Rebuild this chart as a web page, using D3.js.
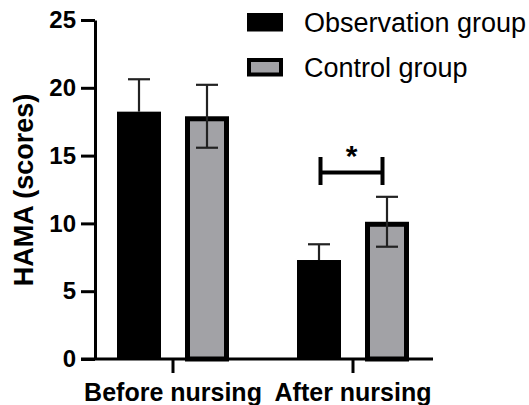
<!DOCTYPE html>
<html>
<head>
<meta charset="utf-8">
<script src="https://cdn.jsdelivr.net/npm/d3@7"></script>
<style>
  html, body { margin: 0; padding: 0; background: #fff; }
  svg { display: block; font-family: "Liberation Sans", Arial, sans-serif; }
</style>
</head>
<body>
<svg id="chart" width="529" height="405"></svg>
<script>
const categories = ["Before nursing", "After nursing"];
const seriesNames = ["Observation group", "Control group"];
const observationMeans = [18.24, 7.30];
const observationSD = [2.39, 1.16];
const controlMeans = [17.9, 10.12];
const controlSD = [2.32, 1.84];
const yTicks = [0, 5, 10, 15, 20, 25];
const yTitle = "HAMA (scores)";
const sigLabel = "*";

const colors = { "Observation group": "#000000", "Control group": "#a2a2a6" };

const data = [];
categories.forEach((c, i) => {
  data.push({ cat: c, series: seriesNames[0], mean: observationMeans[i], sd: observationSD[i] });
  data.push({ cat: c, series: seriesNames[1], mean: controlMeans[i], sd: controlSD[i] });
});

const svg = d3.select("#chart");

const y = d3.scaleLinear().domain([0, 25]).range([359, 20]);
const x0 = d3.scaleBand().domain(categories).range([83, 443]).padding(0);
const groupW = 112;
const x1 = d3.scaleBand().domain(seriesNames).range([0, groupW]).paddingInner(0.353).paddingOuter(0);
const barX = d => x0(d.cat) + (x0.bandwidth() - groupW) / 2 + x1(d.series);
const bw = x1.bandwidth();

// Bars
const borderW = 5;
svg.append("g").selectAll("rect").data(data).join("rect")
  .attr("x", d => d.series === "Control group" ? barX(d) + borderW / 2 : barX(d))
  .attr("y", d => d.series === "Control group" ? y(d.mean) + borderW / 2 : y(d.mean))
  .attr("width", d => d.series === "Control group" ? bw - borderW : bw)
  .attr("height", d => d.series === "Control group" ? y(0) - y(d.mean) - borderW / 2 : y(0) - y(d.mean))
  .attr("fill", d => colors[d.series])
  .attr("stroke", d => d.series === "Control group" ? "#000" : "none")
  .attr("stroke-width", borderW);

// Error bars
const capW = 22;
const eb = svg.append("g").attr("stroke", "#222").attr("stroke-width", 2.2);
data.forEach(d => {
  const cx = barX(d) + bw / 2;
  const isCtrl = d.series === "Control group";
  const yTop = y(d.mean + d.sd);
  const yBot = isCtrl ? y(d.mean - d.sd) : y(d.mean);
  eb.append("line").attr("x1", cx).attr("x2", cx).attr("y1", yTop).attr("y2", yBot);
  eb.append("line").attr("x1", cx - capW / 2).attr("x2", cx + capW / 2).attr("y1", yTop).attr("y2", yTop);
  if (isCtrl) {
    eb.append("line").attr("x1", cx - capW / 2).attr("x2", cx + capW / 2).attr("y1", yBot).attr("y2", yBot);
  }
});

// Y axis
const yAxis = d3.axisLeft(y).tickValues(yTicks).tickSize(14).tickPadding(5).tickSizeOuter(0);
const gy = svg.append("g").attr("transform", "translate(95,0)").call(yAxis);
gy.select(".domain").attr("stroke", "#000").attr("stroke-width", 3);
gy.selectAll(".tick line").attr("stroke", "#000").attr("stroke-width", 3);
gy.selectAll(".tick text").attr("fill", "#000").style("font-size", "24px").style("font-weight", "bold")
  .style("font-family", "'Liberation Sans', Arial, sans-serif");

// X axis
const xAxis = d3.axisBottom(x0).tickSize(14).tickPadding(10).tickSizeOuter(0);
const gx = svg.append("g").attr("transform", `translate(0,${y(0)})`).call(xAxis);
gx.select(".domain").remove();
gx.append("line").attr("x1", 81).attr("x2", 433).attr("y1", 0).attr("y2", 0)
  .attr("stroke", "#000").attr("stroke-width", 3);
gx.selectAll(".tick line").attr("stroke", "#000").attr("stroke-width", 3);
gx.selectAll(".tick text").attr("fill", "#000").style("font-size", "25px").style("font-weight", "bold")
  .style("font-family", "'Liberation Sans', Arial, sans-serif").attr("dy", "0.71em");

// Y title
svg.append("text")
  .attr("transform", "translate(33,190) rotate(-90)")
  .attr("text-anchor", "middle")
  .style("font-size", "27px").style("font-weight", "bold")
  .text(yTitle);

// Significance bracket
const obsAfter = data.find(d => d.cat === categories[1] && d.series === seriesNames[0]);
const ctrlAfter = data.find(d => d.cat === categories[1] && d.series === seriesNames[1]);
const bx1 = barX(obsAfter) + bw / 2 + 1.5;
const bx2 = barX(ctrlAfter) + bw / 2 - 4.5;
const by = 172.5;
const br = svg.append("g").attr("stroke", "#000").attr("stroke-width", 4);
br.append("line").attr("x1", bx1).attr("x2", bx2).attr("y1", by).attr("y2", by);
br.append("line").attr("x1", bx1).attr("x2", bx1).attr("y1", by - 15.5).attr("y2", by + 12.5);
br.append("line").attr("x1", bx2).attr("x2", bx2).attr("y1", by - 15.5).attr("y2", by + 12.5);
svg.append("text").attr("x", (bx1 + bx2) / 2).attr("y", 166).attr("text-anchor", "middle")
  .style("font-size", "30px").style("font-weight", "bold").text(sigLabel);

// Legend
const legend = svg.append("g");
seriesNames.forEach((s, i) => {
  const ly = 13 + i * 45;
  if (s === "Control group") {
    legend.append("rect").attr("x", 247 + 2).attr("y", ly + 2).attr("width", 36 - 4).attr("height", 18.5 - 4)
      .attr("fill", colors[s]).attr("stroke", "#000").attr("stroke-width", 4);
  } else {
    legend.append("rect").attr("x", 247).attr("y", ly).attr("width", 36).attr("height", 18.5)
      .attr("fill", colors[s]);
  }
  legend.append("text").attr("x", 304).attr("y", ly + 18.5).style("font-size", "27px").attr("fill", "#000").text(s);
});
</script>
</body>
</html>
